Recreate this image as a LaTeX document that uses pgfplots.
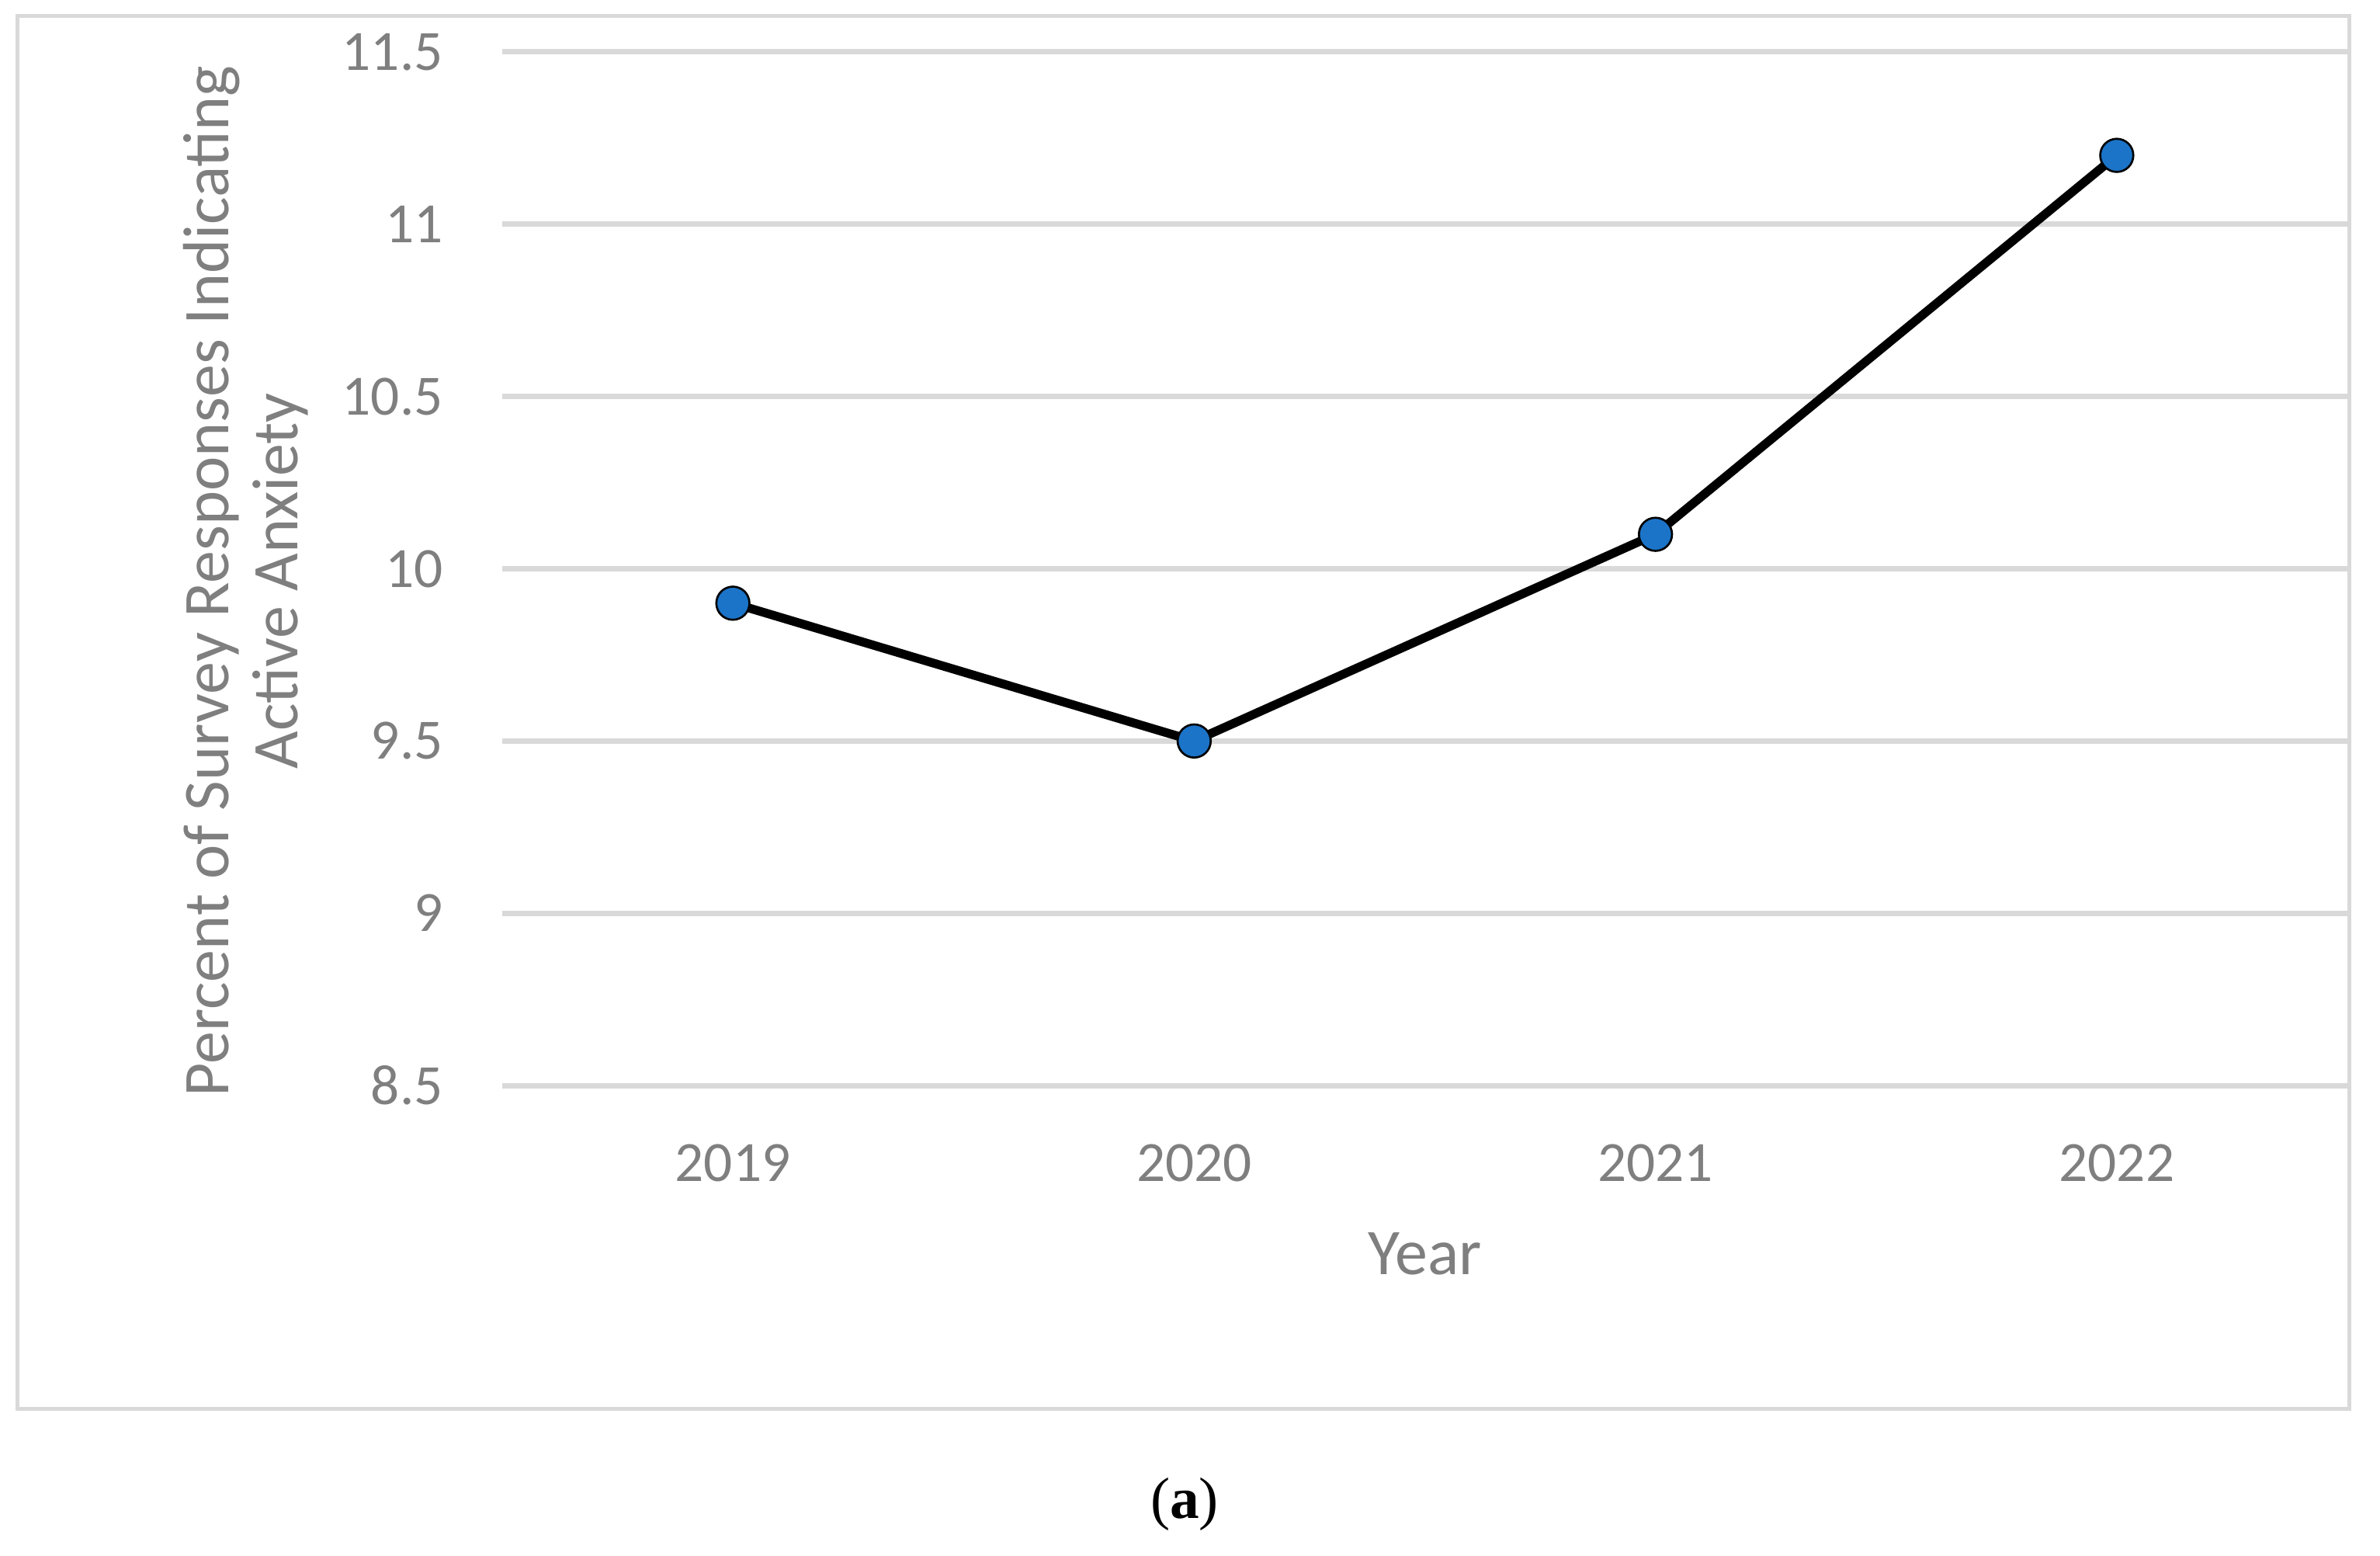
\documentclass[border=0pt]{standalone}
\usepackage{fontspec}
\setmainfont{Carlito}
\newfontfamily\capfont{Liberation Serif}
\usepackage{pgfplots}
\pgfplotsset{compat=1.18}
\definecolor{gridgray}{RGB}{217,217,217}
\definecolor{textgray}{RGB}{127,127,127}
\definecolor{markblue}{RGB}{27,116,200}
\begin{document}
\begin{tikzpicture}
\useasboundingbox (0,0) rectangle (459.9pt,300.45pt);
\draw[gridgray, line width=0.75pt] (3.3pt,28.35pt) rectangle (453.9pt,297.3pt);
\begin{axis}[
  at={(97.05pt,90.75pt)}, anchor=south west,
  scale only axis, width=356.55pt, height=199.65pt,
  xmin=-0.5, xmax=3.5, ymin=8.5, ymax=11.5,
  xtick={0,1,2,3}, xticklabels={2019,2020,2021,2022},
  ytick={8.5,9,9.5,10,10.5,11,11.5},
  /pgf/number format/assume math mode=true,
  axis line style={draw=none},
  major tick length=0pt,
  tick style={draw=none},
  ymajorgrids, grid style={color=gridgray, line width=1.05pt},
  tick label style={font=\fontsize{11}{13}\selectfont, text=textgray, inner sep=0pt},
  yticklabel style={anchor=east, xshift=-11.25pt},
  xticklabel style={anchor=north, yshift=-11.2pt},
  ylabel={Percent of Survey Responses Indicating\\Active Anxiety},
  xlabel={Year},
  every axis y label/.style={at={(axis description cs:-0.139,0.488)}, rotate=90, anchor=center, align=center, font=\fontsize{12.6}{13.4}\selectfont, text=textgray},
  every axis x label/.style={at={(axis description cs:0.5,-0.163)}, anchor=center, font=\fontsize{12.6}{13.4}\selectfont, text=textgray},
  clip=false,
]
\addplot[black, line width=1.7pt, mark=*, mark size=3.2pt, mark options={fill=markblue, draw=black, line width=0.4pt}] coordinates {(0,9.9) (1,9.5) (2,10.1) (3,11.2)};
\end{axis}
\node[anchor=center, inner sep=0pt, font=\capfont\fontsize{11.3}{13}\selectfont] at (228.9pt,9.9pt) {({\bfseries a})};
\end{tikzpicture}
\end{document}
